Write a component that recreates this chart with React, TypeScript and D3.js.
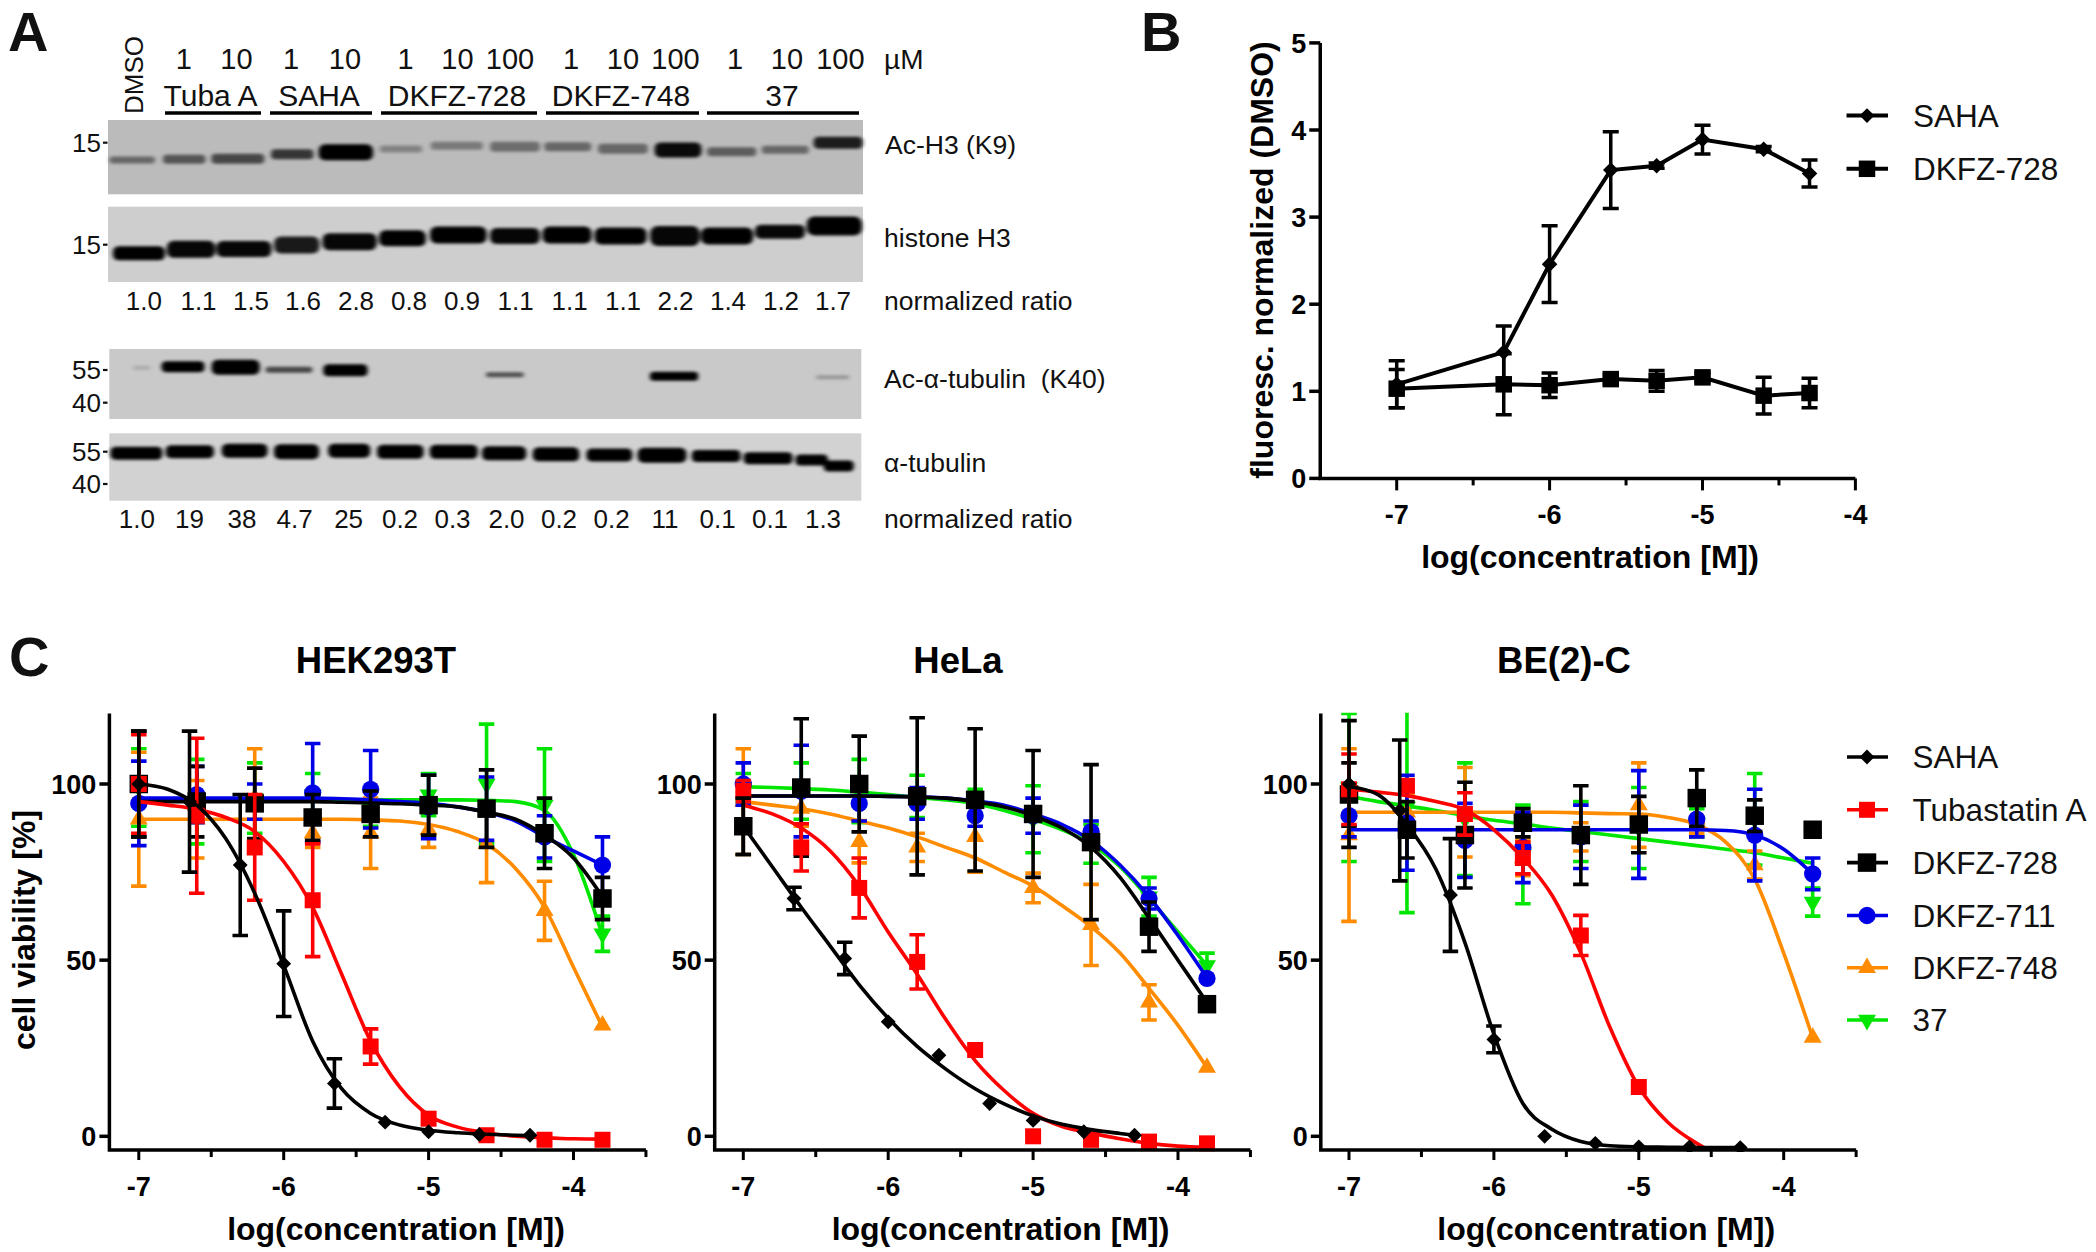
import React from "react";
import * as d3 from "d3";

// ---------- panel A text ----------
const doseLabels = ["1","10","1","10","1","10","100","1","10","100","1","10","100"];
const groupLabels = ["Tuba A","SAHA","DKFZ-728","DKFZ-748","37"];
const ratioH3 = ["1.0","1.1","1.5","1.6","2.8","0.8","0.9","1.1","1.1","1.1","2.2","1.4","1.2","1.7"];
const ratioTub = ["1.0","19","38","4.7","25","0.2","0.3","2.0","0.2","0.2","11","0.1","0.1","1.3"];

// ---------- panel A blots (percent of each blot's box, darkness 0..1) ----------
const laneAcH3 = [3.2,10.1,17.2,24.4,31.5,38.8,46.2,53.9,60.9,68.2,75.5,82.6,89.7,96.7];
const acH3Pos = [53.8,52.9,52.1,46.2,43.5,39,34.6,35.9,35.9,38.6,40.4,42.7,40,30.6];
const acH3Thick = [9.4,12,13.5,13.5,21.5,9.4,10.8,13.5,12,13.5,20,12,10.8,16];
const acH3Wide = [6,5.6,7,5.6,7.2,5.6,6.9,6.6,6.2,6.6,6.2,6.5,6.2,6.5];
const acH3Dark = [0.45,0.55,0.62,0.72,1,0.3,0.35,0.42,0.45,0.45,0.95,0.5,0.45,0.85];
const laneH3 = [4.1,11,18,25,32,39,46.4,53.9,60.8,67.9,75.1,82,89,96.2];
const h3Pos = [61.9,56.6,56.2,50.9,46.5,42,37.6,38.9,37.6,38.9,38.9,38.9,33.2,25.6];
const h3Thick = [18.6,22.6,21.2,22.6,22.6,21.2,22.6,21.2,22.6,22.6,26.6,22.6,18.6,25];
const h3Wide = [6.9,6.4,7.3,6,7.2,6.2,7.5,6.6,6.5,6.9,6.6,6.9,6.6,7.3];
const h3Dark = [1,0.97,0.97,0.88,0.97,1,1,0.97,1,1,0.97,1,0.97,1];
const laneAcTub = [4.3,9.8,16.8,23.9,31.4,52.6,75.1,96.2];
const acTubPos = [26.7,25.3,26.1,29.6,30.4,36.7,39,40.4];
const acTubThick = [5.7,15.7,21.4,8.6,17,7,13,5.7];
const acTubWide = [2.3,5.7,6.4,6.2,5.9,5,6.4,4.4];
const acTubDark = [0.15,1,1,0.65,1,0.6,1,0.25];
const laneTub = [3.6,10.7,18,24.9,31.9,38.7,45.8,52.5,59.4,66.5,73.5,80.7,87.6,93.4,97];
const tubPos = [29.7,27.3,25.8,27.3,25.8,27.3,27.3,29.7,31.2,32.2,32.6,33.7,37,39.6,48.4];
const tubThick = [19.3,19.3,20.8,22.3,20.8,20.8,20.8,20.8,20.8,19.3,22.3,17.8,17.8,16.3,16.3];
const tubWide = [6.9,6.4,6.1,6,5.6,6.2,6.4,5.9,6.2,6.1,6.5,6.5,6.5,4.3,4];
const tubDark = [1,1,1,1,1,1,1,1,1,1,1,1,1,1,1];

// ---------- panel B ----------
const xB = [-7,-6.3,-6,-5.6,-5.3,-5,-4.6,-4.3];
const bSaha = [1.08,1.45,2.46,3.54,3.59,3.89,3.78,3.5];
const bSahaErr = [0.27,0.3,0.44,0.44,0.03,0.165,0.03,0.155];
const b728 = [1.03,1.08,1.07,1.14,1.12,1.16,0.95,0.98];
const b728Err = [0.22,0.35,0.14,0.05,0.12,0.05,0.21,0.17];

// ---------- panel C doses ----------
const xDose = [-7,-6.6,-6.2,-5.8,-5.4,-5,-4.6,-4.2,-3.8];
const xSaha = [-7,-6.65,-6.3,-6,-5.65,-5.3,-5,-4.65,-4.3];
const curveGrid = [-7,-6.8,-6.6,-6.4,-6.2,-6,-5.8,-5.6,-5.4,-5.2,-5,-4.8,-4.6,-4.4,-4.2,-4,-3.8];
const curveGridSaha = [-7,-6.8,-6.6,-6.4,-6.2,-6,-5.8,-5.6,-5.4,-5.2,-5,-4.8,-4.6,-4.4,-4.3];
const curveGridTubaBE = [-7,-6.8,-6.6,-6.4,-6.2,-6,-5.8,-5.6,-5.4,-5.2,-5,-4.8,-4.6,-4.55];

// HEK293T
const hekSaha = [100,95,77,49,15,4,1.3,0.5,0.3];
const hekSahaErr = [15,20,20,15,7,0,0,0,0];
const hekSahaFit = [100,98.5,94,84.5,69,48.5,27,13.5,6.5,3.2,1.7,1,0.6,0.3,0.2];
const hekTuba = [100,91,82,67,25.5,5,0.3,-1,-1];
const hekTubaErr = [14,22,15,16,5,0,0,0,0];
const hekTubaFit = [95,94,92.8,90.5,86.5,78,65,46,27,14,6,2.6,1,0,-0.4,-0.7,-0.8];
const hek728 = [100,95,94.5,90.5,91.5,94,93,86,67.5];
const hek728Err = [15,10,10,6.5,6.5,8.5,11,10,6];
const hek728Fit = [95,95,95,95,95,95,95,94.8,94.6,94.4,94,93.5,92,90,85.5,79,68];
const hek711 = [94.5,97,95,97.5,98.5,93.5,93,85,77];
const hek711Err = [12,8,5,14,11,9,9,6,8];
const hek711Fit = [96,96,96,96,96,96,96,95.8,95.5,95,94.5,93.5,92,89.5,85,81,77];
const hek748 = [90,90,96,86,86,87,83,64,31.5];
const hek748Err = [19,11,14,4,10,5,11,8.4,0];
const hek748Fit = [90,90,90,90,90,90,90,90,89.8,89.5,88.5,86.5,83,76,65,48,31];
const hek37 = [99,95,96,97,93,97,100,94,57.5];
const hek37Err = [11,12,10,6,5,6,17,16,5];
const hek37Fit = [95.5,95.5,95.5,95.5,95.5,95.5,95.5,95.5,95.5,95.5,95.5,95.5,95.4,95,92.5,80,57];

// HeLa
const helaSaha = [88,67.5,50.5,32.5,23,9.3,4.5,1.3,0.3];
const helaSahaErr = [8,3.2,4.6,0,0,0,0,0,0];
const helaSahaFit = [88,76.5,65,54,43,33.5,25.5,19,13.5,9.2,5.8,3.4,1.9,0.8,0.3];
const helaTuba = [98,82,70.5,49.5,24.5,0,-1,-1.5,-2];
const helaTubaErr = [3,6.7,8.5,7.7,0,0,0,0,0];
const helaTubaFit = [94,91.5,87.5,81,71,58,46,33,21.5,13,6.5,2.8,0.9,-0.7,-2,-2.8,-3.2];
const hela728 = [88,99,100,96.5,95.5,91.5,83.5,59.5,37.5];
const hela728Err = [8,19.5,13.6,22.3,20.2,18,22,7,0];
const hela728Fit = [96.6,96.6,96.6,96.6,96.6,96.5,96.3,96,95,93.5,91,87.5,82,73.5,62,50,38];
const hela711 = [100,98,94.5,94.5,91,91,86.5,67.5,44.8];
const hela711Err = [6,13,5,4.5,3,5,3,3,0];
const hela711Fit = [96.6,96.6,96.6,96.6,96.6,96.5,96.4,96,95.2,94,91.5,88.5,84,77,68,57,45];
const hela748 = [95,93,83.6,82,85,70.5,60,38,19.5];
const hela748Err = [15,5,6,4,10,4.2,11.5,5,0];
const hela748Fit = [95,94,93,91.5,89.5,87.5,85,82,79,75,71,65.5,59.5,52,42,31.5,19.5];
const hela37 = [99,98,98,96.5,94.5,90,83,68,48.5];
const hela37Err = [4,8,9,6,4,9.5,5.5,5.5,3.5];
const hela37Fit = [99.2,99,98.7,98.3,97.7,97,96.2,95.5,94.5,92.5,90,87,83,76.5,67.5,58,48.5];

// BE(2)-C
const beSaha = [100,92.5,68.5,27.5,0,-2,-3,-3,-3.2];
const beSahaErr = [18,20,16,3.8,0,0,0,0,0];
const beSahaFit = [99.3,97,88.4,75.8,55,29,9.3,2,-1.5,-2.7,-3,-3.1,-3.2,-3.2,-3.2];
const beTuba = [98.5,99.5,91.5,79,57,14,-8,-8,-8];
const beTubaErr = [10,0,6,4.5,5.7,0,0,0,0];
const beTubaFit = [98.5,97.7,96.7,95,92.7,87,79,68.5,52,31,14,4,-2,-3.2];
const be728 = [97,87,85.5,89,85.5,88.5,96,91,87];
const be728Err = [9,8,15,4,14,8,8,4.5,0];
const be711 = [91,89,84,82,85,88.5,90,85.5,74.5];
const be711Err = [6,13.5,10.5,10,9,15.3,5,13,4.5];
const be711Fit = [87,87,87,87,87,87,87,87,87,87,87,87,87,86.8,85.5,81.5,74.5];
const be748 = [85.5,92,92,79,85,94,90,77,28];
const be748Err = [24.5,5,12.7,5,4,12,4,4,0];
const be748Fit = [92,92,92,92,92,92,92,92,91.8,91.6,91.5,90.5,88.5,83.5,73,52,28];
const be37 = [99,93.5,90,80,86.5,87.5,89,90,66.5];
const be37Err = [21,30,16,14,8.5,11.5,4,13,4];
const be37Fit = [96.5,95,93.8,92.5,91,89.7,88.7,87.5,86.5,85.5,84.5,83.5,82.5,81.5,80.5,79,77.5];

const legendNames = ["SAHA","Tubastatin A","DKFZ-728","DKFZ-711","DKFZ-748","37"];
const seriesColors = ["#000000","#ff0000","#000000","#0000e6","#ff8c00","#00e600"];
const seriesShapes = ["diamond","square","bigSquare","circle","up","down"];
const panelTitles = ["HEK293T","HeLa","BE(2)-C"];
const yTicksC = [0,50,100];
const xTicks = [-7,-6,-5,-4];

const FONT = "'Liberation Sans', Arial, sans-serif";

type Shape = string;
function markerPath(shape: Shape) {
  if (shape === "diamond") return d3.symbol().type(d3.symbolSquare).size(110)()!;
  if (shape === "square") return d3.symbol().type(d3.symbolSquare).size(256)()!;
  if (shape === "bigSquare") return d3.symbol().type(d3.symbolSquare).size(342)()!;
  if (shape === "circle") return d3.symbol().type(d3.symbolCircle).size(235)()!;
  return d3.symbol().type(d3.symbolTriangle).size(140)()!;
}
function Marker({ x, y, shape, color }: { x: number; y: number; shape: Shape; color: string }) {
  const rot = shape === "diamond" ? 45 : shape === "down" ? 180 : 0;
  return <path d={markerPath(shape)} fill={color} transform={`translate(${x},${y}) rotate(${rot})`} />;
}

type Series = { xs: number[]; ys: number[]; errs: number[]; fitX?: number[]; fit?: number[]; color: string; shape: Shape; cap: number; sw: number };

const panelC = [
  { x0: 109.4, tickM7: 138.8, saha: [hekSaha, hekSahaErr, hekSahaFit], tuba: [hekTuba, hekTubaErr, hekTubaFit], d728: [hek728, hek728Err, hek728Fit], d711: [hek711, hek711Err, hek711Fit], d748: [hek748, hek748Err, hek748Fit], c37: [hek37, hek37Err, hek37Fit] },
  { x0: 714.7, tickM7: 743.3, saha: [helaSaha, helaSahaErr, helaSahaFit], tuba: [helaTuba, helaTubaErr, helaTubaFit], d728: [hela728, hela728Err, hela728Fit], d711: [hela711, hela711Err, hela711Fit], d748: [hela748, hela748Err, hela748Fit], c37: [hela37, hela37Err, hela37Fit] },
  { x0: 1320.8, tickM7: 1349, saha: [beSaha, beSahaErr, beSahaFit], tuba: [beTuba, beTubaErr, beTubaFit], d728: [be728, be728Err, null], d711: [be711, be711Err, be711Fit], d748: [be748, be748Err, be748Fit], c37: [be37, be37Err, be37Fit] },
];

function SeriesMarks({ s, x, y, clipId }: { s: Series; x: d3.ScaleLinear<number, number>; y: d3.ScaleLinear<number, number>; clipId: string }) {
  const line = d3.line<number>()
    .x((_, i) => x(s.fitX![i]))
    .y((d) => y(d))
    .curve(d3.curveMonotoneX);
  return (
    <g clipPath={`url(#${clipId})`}>
      {s.fit && <path d={line(s.fit)!} fill="none" stroke={s.color} strokeWidth={s.sw} />}
      {s.xs.map((v, i) => {
        const e = s.errs[i];
        const px = x(v);
        const c = s.cap / 2;
        return (
          <g key={i}>
            {e > 0 && (
              <path
                d={`M${px},${y(s.ys[i] - e)}V${y(s.ys[i] + e)}M${px - c},${y(s.ys[i] + e)}H${px + c}M${px - c},${y(s.ys[i] - e)}H${px + c}`}
                fill="none"
                stroke={s.color}
                strokeWidth={s.sw}
              />
            )}
            {s.ys[i] > -4 && <Marker x={px} y={y(s.ys[i])} shape={s.shape} color={s.color} />}
          </g>
        );
      })}
    </g>
  );
}

function Blot({ x, y, w, h, fill, lanes, pos, thick, wide, dark }: any) {
  const sx = d3.scaleLinear([0, 100], [x, x + w]);
  const sy = d3.scaleLinear([0, 100], [y, y + h]);
  return (
    <g>
      <rect x={x} y={y} width={w} height={h} fill={fill} />
      <g filter="url(#bandBlur)">
        {lanes.map((l: number, i: number) => {
          const bw = sx(wide[i]) - x;
          const bh = sy(thick[i]) - y;
          return (
            <rect key={i} x={sx(l) - bw / 2} y={sy(pos[i]) - bh / 2} width={bw} height={bh} rx={bh / 2.6}
              fill="#050505" opacity={dark[i]} />
          );
        })}
      </g>
    </g>
  );
}

const T = (p: any) => <text fontFamily={FONT} fill="#111" {...p} />;

function PanelA() {
  const doseX = [183.8,236.4,291,345,405.5,457.4,510,571,623,675.5,735,787,840.4];
  const groupX = [210.5,319,457,621,782];
  const underlines = [[165,261],[270,372],[381,537],[546,699],[707,859]];
  const r1X = [143.8,198.5,251,303,356,409,462,515.6,569.6,623,675.5,728,781,833];
  const r2X = [136.8,189.4,242,294.6,348.6,400,452.5,506.5,559,611.7,665,717.6,770,823];
  const mw: [string, number, number][] = [["15",142.7,101],["15",244.7,101],["55",370,101],["40",402.7,101],["55",451.7,101],["40",484,101]];
  return (
    <g>
      <Blot x={108} y={120} w={755} h={74.3} fill="#bbbbbb" lanes={laneAcH3} pos={acH3Pos} thick={acH3Thick} wide={acH3Wide} dark={acH3Dark} />
      <Blot x={108} y={206.7} w={755} h={75.3} fill="#cecece" lanes={laneH3} pos={h3Pos} thick={h3Thick} wide={h3Wide} dark={h3Dark} />
      <Blot x={109.3} y={349} w={752} h={70} fill="#c9c9c9" lanes={laneAcTub} pos={acTubPos} thick={acTubThick} wide={acTubWide} dark={acTubDark} />
      <Blot x={109.3} y={433.3} w={752} h={67.4} fill="#d2d2d2" lanes={laneTub} pos={tubPos} thick={tubThick} wide={tubWide} dark={tubDark} />
      <T x={8} y={51} fontSize={56} fontWeight="bold">A</T>
      <T transform="translate(143,114) rotate(-90)" fontSize={26}>DMSO</T>
      {doseLabels.map((d, i) => <T key={i} x={doseX[i]} y={69} fontSize={29} textAnchor="middle">{d}</T>)}
      <T x={884} y={69} fontSize={28}>µM</T>
      {groupLabels.map((d, i) => <T key={i} x={groupX[i]} y={106} fontSize={30} textAnchor="middle">{d}</T>)}
      {underlines.map(([a, b], i) => <line key={i} x1={a} x2={b} y1={113} y2={113} stroke="#000" strokeWidth={3.5} />)}
      {ratioH3.map((d, i) => <T key={i} x={r1X[i]} y={310} fontSize={26} textAnchor="middle">{d}</T>)}
      {ratioTub.map((d, i) => <T key={i} x={r2X[i]} y={528} fontSize={26} textAnchor="middle">{d}</T>)}
      <T x={885} y={154} fontSize={26.5}>Ac-H3 (K9)</T>
      <T x={884} y={247} fontSize={26.5}>histone H3</T>
      <T x={884} y={310} fontSize={26.5}>normalized ratio</T>
      <T x={884} y={388} fontSize={26.5} xmlSpace="preserve">Ac-α-tubulin  (K40)</T>
      <T x={884} y={472} fontSize={26.5}>α-tubulin</T>
      <T x={884} y={528} fontSize={26.5}>normalized ratio</T>
      {mw.map(([t, yy, xx], i) => (
        <g key={i}>
          <T x={xx} y={yy + 9} fontSize={26} textAnchor="end">{t}</T>
          <line x1={103} x2={107.5} y1={yy} y2={yy} stroke="#111" strokeWidth={2.2} />
        </g>
      ))}
    </g>
  );
}

function PanelB() {
  const x = d3.scaleLinear([-7, -4], [1396.7, 1855.4]);
  const y = d3.scaleLinear([0, 5], [478.4, 42.9]);
  const line = d3.line<number>().x((_, i) => x(xB[i])).y((d) => y(d));
  const minor = [-6.5, -5.5, -4.5];
  const sets = [
    { ys: b728, errs: b728Err, shape: "sq", size: 16.5 },
    { ys: bSaha, errs: bSahaErr, shape: "di", size: 11 },
  ];
  return (
    <g>
      <T x={1141} y={51} fontSize={56} fontWeight="bold">B</T>
      <path d={`M${x(-7.5)},${y(5)}V${y(0)}H${x(-4)}`} fill="none" stroke="#000" strokeWidth={3.5} />
      {d3.range(0, 6).map((t) => (
        <g key={t}>
          <line x1={x(-7.5) - 11} x2={x(-7.5)} y1={y(t)} y2={y(t)} stroke="#000" strokeWidth={3.5} />
          <T x={x(-7.5) - 14} y={y(t) + 10} fontSize={27} fontWeight="bold" textAnchor="end" fill="#000">{t}</T>
        </g>
      ))}
      {xTicks.map((t) => (
        <g key={t}>
          <line x1={x(t)} x2={x(t)} y1={y(0)} y2={y(0) + 12} stroke="#000" strokeWidth={3} />
          <T x={x(t)} y={y(0) + 46} fontSize={27} fontWeight="bold" textAnchor="middle" fill="#000">{String(t)}</T>
        </g>
      ))}
      {minor.map((t) => <line key={t} x1={x(t)} x2={x(t)} y1={y(0)} y2={y(0) + 7} stroke="#000" strokeWidth={3} />)}
      <T x={1590} y={568} fontSize={32} fontWeight="bold" textAnchor="middle" fill="#000">log(concentration [M])</T>
      <T transform={`translate(1273,260) rotate(-90)`} fontSize={32} fontWeight="bold" textAnchor="middle" fill="#000">fluoresc. normalized (DMSO)</T>
      {sets.map((s, k) => (
        <g key={k}>
          <path d={line(s.ys)!} fill="none" stroke="#000" strokeWidth={4} />
          {s.ys.map((v, i) => {
            const px = x(xB[i]);
            const e = s.errs[i];
            const sz = s.size;
            return (
              <g key={i}>
                <path d={`M${px},${y(v - e)}V${y(v + e)}M${px - 8},${y(v + e)}H${px + 8}M${px - 8},${y(v - e)}H${px + 8}`} stroke="#000" strokeWidth={3.5} fill="none" />
                <path d={d3.symbol().type(d3.symbolSquare).size(sz * sz)()!} transform={`translate(${px},${y(v)}) rotate(${s.shape === "di" ? 45 : 0})`} fill="#000" />
              </g>
            );
          })}
        </g>
      ))}
      {["SAHA", "DKFZ-728"].map((n, i) => {
        const ly = [115.6, 168.8][i];
        return (
          <g key={n}>
            <line x1={1846.5} x2={1888} y1={ly} y2={ly} stroke="#000" strokeWidth={4} />
            <path d={d3.symbol().type(d3.symbolSquare).size(i === 0 ? 110 : 272)()!} transform={`translate(1867,${ly}) rotate(${i === 0 ? 45 : 0})`} fill="#000" />
            <T x={1913} y={ly + 11} fontSize={31.5}>{n}</T>
          </g>
        );
      })}
    </g>
  );
}

function PanelC() {
  const legendY = [757, 809.8, 862.6, 915.5, 967.8, 1020];
  return (
    <g>
      <T x={9} y={676} fontSize={56} fontWeight="bold">C</T>
      {panelC.map((p, k) => {
        const x = d3.scaleLinear([-7, -4], [p.tickM7, p.tickM7 + 434.7]);
        const y = d3.scaleLinear([0, 100], [1136.3, 784]);
        const right = x(-3.5);
        const ax = p.x0;
        const base = y(-3.9);
        const clipId = `clip${k}`;
        const mk = (row: any, idx: number, xs: number[], fitX: number[]): Series => ({
          xs, ys: row[0], errs: row[1], fit: row[2] || undefined, fitX,
          color: seriesColors[idx], shape: seriesShapes[idx], cap: 15.5, sw: 3.6,
        });
        const series: Series[] = [
          mk(p.c37, 5, xDose, curveGrid),
          mk(p.d748, 4, xDose, curveGrid),
          mk(p.d711, 3, xDose, curveGrid),
          mk(p.d728, 2, xDose, curveGrid),
          mk(p.tuba, 1, xDose, k === 2 ? curveGridTubaBE : curveGrid),
          mk(p.saha, 0, xSaha, curveGridSaha),
        ];
        const tickMinor = [-6.5, -5.5, -4.5, -3.5];
        return (
          <g key={k}>
            <clipPath id={clipId}><rect x={ax - 20} y={y(120.2)} width={right - ax + 60} height={base - y(120.2) + 2} /></clipPath>
            <T x={[376, 958, 1564][k]} y={673} fontSize={36.5} fontWeight="bold" textAnchor="middle" fill="#000">{panelTitles[k]}</T>
            {series.map((s, i) => <SeriesMarks key={i} s={s} x={x} y={y} clipId={clipId} />)}
            <path d={`M${ax},${y(120)}V${base}H${right}`} fill="none" stroke="#000" strokeWidth={3.5} />
            {yTicksC.map((t) => (
              <g key={t}>
                <line x1={ax - 10} x2={ax} y1={y(t)} y2={y(t)} stroke="#000" strokeWidth={3.5} />
                <T x={ax - 13} y={y(t) + 10} fontSize={27} fontWeight="bold" textAnchor="end" fill="#000">{t}</T>
              </g>
            ))}
            {xTicks.map((t) => (
              <g key={t}>
                <line x1={x(t)} x2={x(t)} y1={base} y2={base + 10} stroke="#000" strokeWidth={3} />
                <T x={x(t)} y={base + 46} fontSize={27} fontWeight="bold" textAnchor="middle" fill="#000">{String(t)}</T>
              </g>
            ))}
            {tickMinor.map((t) => <line key={t} x1={x(t)} x2={x(t)} y1={base} y2={base + 7} stroke="#000" strokeWidth={3} />)}
            <T x={x(-5.225)} y={1240} fontSize={32} fontWeight="bold" textAnchor="middle" fill="#000">log(concentration [M])</T>
          </g>
        );
      })}
      <T transform="translate(35,930) rotate(-90)" fontSize={32} fontWeight="bold" textAnchor="middle" fill="#000">cell viability [%]</T>
      {legendNames.map((n, i) => (
        <g key={n}>
          <line x1={1847} x2={1888} y1={legendY[i]} y2={legendY[i]} stroke={seriesColors[i]} strokeWidth={3.6} />
          <Marker x={1867} y={legendY[i]} shape={seriesShapes[i]} color={seriesColors[i]} />
          <T x={1912.5} y={legendY[i] + 11} fontSize={31.5}>{n}</T>
        </g>
      ))}
    </g>
  );
}

export default function App() {
  return (
    <svg width={2096} height={1252} viewBox="0 0 2096 1252" style={{ position: "fixed", left: 0, top: 0, background: "#fff" }}>
      <defs>
        <filter id="bandBlur" x="-5%" y="-40%" width="110%" height="180%">
          <feGaussianBlur stdDeviation="2 1.5" />
        </filter>
      </defs>
      <PanelA />
      <PanelB />
      <PanelC />
    </svg>
  );
}
